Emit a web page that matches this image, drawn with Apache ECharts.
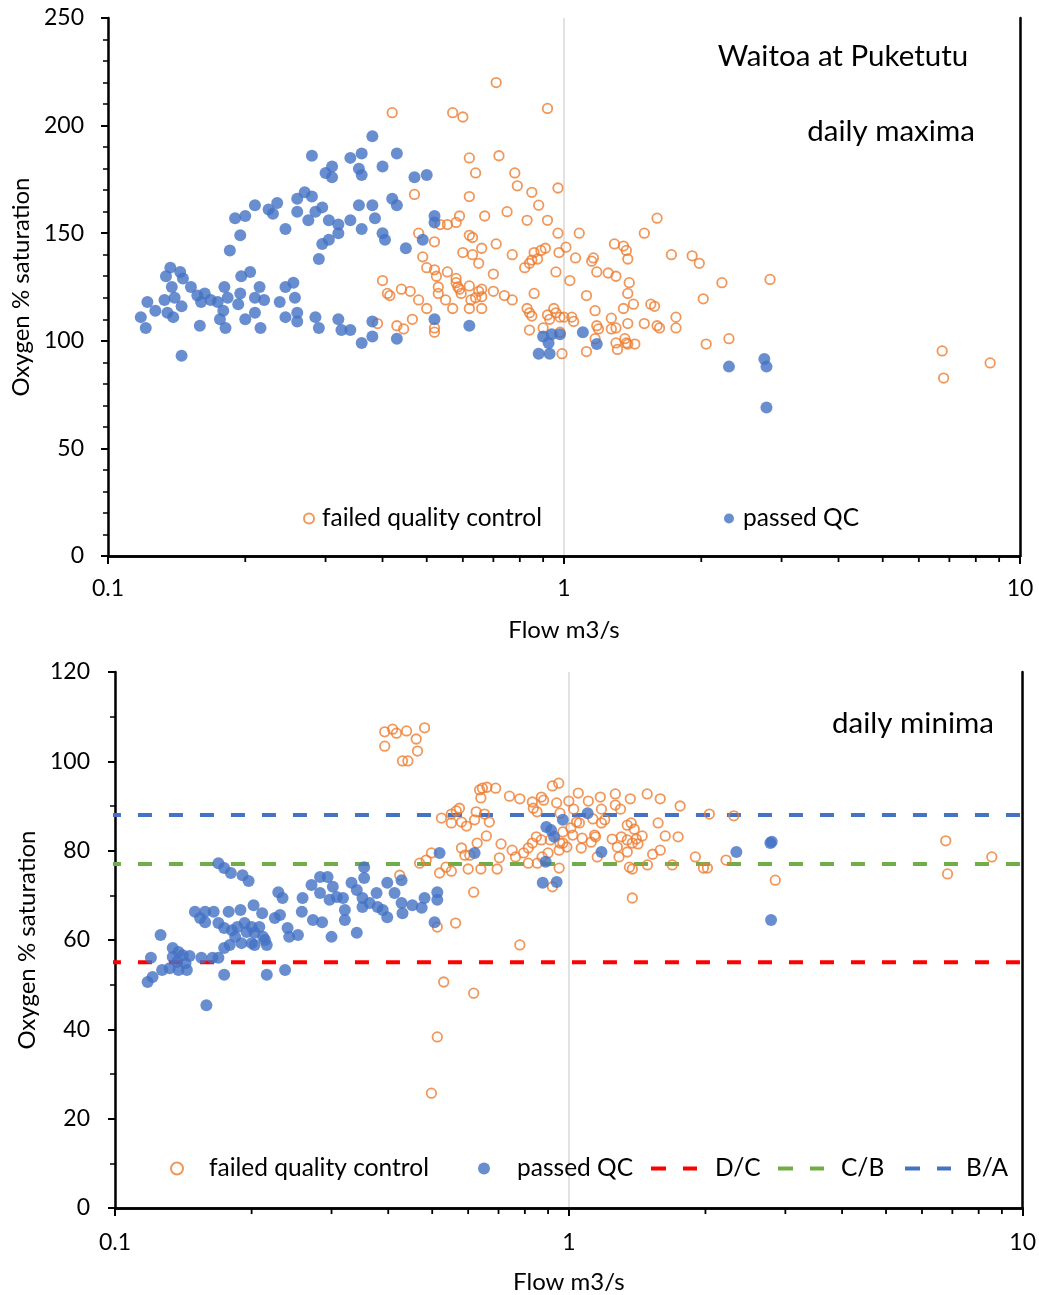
<!DOCTYPE html>
<html>
<head>
<meta charset="utf-8">
<title>Waitoa at Puketutu – oxygen saturation vs flow</title>
<script src="https://cdn.jsdelivr.net/npm/echarts@6/dist/echarts.min.js"></script>
<style>
  html, body { margin: 0; padding: 0; background: #fff; }
  #chart { width: 1039px; height: 1295px; }
</style>
</head>
<body>
<div id="chart"></div>
<script>
// ---- Daily maxima: [flow m3/s, oxygen % saturation] ----
const maxFailed = [
  [0.71,220],[0.92,208],[0.42,206],[0.57,206],[0.60,204],[0.62,185],[0.72,186],[0.64,178],[0.78,178],[0.79,172],
  [0.85,169],[0.97,171],[0.47,168],[0.62,167],[0.88,163],[0.59,158],[0.58,155],[0.555,154],[0.535,154],[0.67,158],
  [0.75,160],[0.83,156],[0.92,156],[0.97,150],[0.48,150],[0.52,146],[0.62,149],[0.63,148],[0.66,143],[0.71,145],
  [0.77,140],[0.86,141],[0.89,142],[0.91,143],[0.875,138],[0.85,137.5],[0.84,136],[0.82,134],[0.975,141],[1.01,143.5],
  [0.60,141],[0.63,140],[0.65,136],[0.49,139],[0.50,134],[0.52,133],[0.525,130],[0.555,132],[0.58,129],[0.70,131],
  [0.96,132],[0.40,128],[0.41,122],[0.415,121],[0.44,124],[0.46,123],[0.48,119],[0.50,115],[0.53,125],[0.53,122],
  [0.55,119],[0.585,125],[0.59,124],[0.595,122],[0.58,127],[0.62,125.5],[0.625,119],[0.64,120],[0.66,120.5],[0.65,123],
  [0.66,124],[0.70,123],[0.74,121],[0.77,119],[0.86,122],[0.57,115],[0.62,115],[0.66,115],[0.39,108],[0.43,107],
  [0.445,105.5],[0.465,110],[0.52,106],[0.52,104],[0.83,115],[0.84,113],[0.85,111.5],[0.95,115],[0.96,113],[0.92,112],
  [0.93,110],[0.90,106],[0.84,105],[0.98,111],[1.0,111],[0.99,94],
  [1.6,157],[1.08,150],[1.5,150],[1.29,145],[1.35,144],[1.37,142],[1.38,138],[1.06,138.5],[1.16,138.5],[1.15,137],
  [1.18,132],[1.25,131.5],[1.3,130],[1.39,127],[1.38,122],[1.72,140],[1.91,139.5],[1.98,136],[2.22,127],[2.83,128.5],
  [2.02,119.5],[1.03,128],[1.12,121],[1.17,114],[1.35,115],[1.42,117],[1.55,117],[1.58,116],[1.76,111],[1.76,106],
  [1.5,108],[1.6,107],[1.62,106],[1.38,108],[1.27,110.5],[1.3,106],[1.27,105.5],[1.18,107],[1.19,105.5],[1.04,111],
  [1.05,109],[0.98,104],[1.36,101],[1.37,99],[1.38,98.5],[1.43,98.5],[1.3,99],[1.31,96],[1.17,101],[1.12,95],
  [2.05,98.5],[2.3,101],[6.75,95.3],[6.8,82.7],[8.6,89.7]
];
const maxPassed = [
  [0.28,186],[0.30,178],[0.27,169],[0.28,167],[0.26,166],[0.26,160],[0.275,156],[0.285,160],[0.295,162],[0.235,164],
  [0.225,161],[0.23,159],[0.21,163],[0.20,158],[0.19,157],[0.245,152],[0.195,149],[0.185,142],[0.29,138],[0.295,145],
  [0.137,134],[0.144,132],[0.134,130],[0.146,129],[0.138,125],[0.122,118],[0.127,114],[0.118,111],[0.121,106],
  [0.133,119],[0.14,120],[0.135,113],[0.139,111],[0.145,116],[0.152,125],[0.157,121],[0.163,122],[0.168,119],[0.16,118],
  [0.174,118],[0.18,125],[0.183,120],[0.179,114],[0.176,110],[0.181,106],[0.159,107],[0.193,117],[0.195,122],[0.196,130],
  [0.205,132],[0.215,125],[0.21,120],[0.22,119],[0.21,113],[0.20,110],[0.216,106],[0.238,118],[0.245,125],[0.255,127],
  [0.257,120],[0.245,111],[0.26,113],[0.26,109],[0.285,111],[0.29,106],[0.145,93],
  [0.38,195],[0.36,187],[0.34,185],[0.43,187],[0.31,181],[0.31,176],[0.355,180],[0.36,177],[0.40,181],[0.47,176],
  [0.50,177],[0.305,156],[0.32,154],[0.32,150],[0.34,156],[0.36,152],[0.355,163],[0.38,163],[0.385,157],[0.42,166],
  [0.43,163],[0.40,150],[0.405,147],[0.305,147],[0.45,143],[0.49,147],[0.52,158],[0.52,155],
  [0.32,110],[0.325,105],[0.34,105],[0.38,102],[0.36,99],[0.38,109],[0.43,101],[0.52,110],[0.62,107],
  [0.90,102],[0.94,103],[0.98,103],[0.88,94],[0.93,94],[0.925,99],[1.1,104],[1.18,98.5],
  [2.3,88],[2.75,91.5],[2.78,88],[2.78,69]
];

// ---- Daily minima: [flow m3/s, oxygen % saturation] ----
const minFailed = [
  [0.393,106.6],[0.409,107.2],[0.417,106.3],[0.439,106.8],[0.481,107.5],[0.461,105.0],[0.393,103.4],[0.464,102.3],[0.43,100.1],[0.442,100.1],
  [0.524,87.3],[0.551,88.2],[0.565,88.9],[0.574,89.5],[0.551,86.2],[0.58,86.4],[0.595,85.5],[0.62,86.9],[0.625,88.7],[0.652,88.2],
  [0.668,86.4],[0.636,93.6],[0.645,94.0],[0.66,94.2],[0.69,94.0],[0.64,91.8],[0.74,92.2],[0.78,91.6],[0.831,90.9],[0.870,92.0],
  [0.88,91.3],[0.92,94.5],[0.95,95.1],[0.94,90.7],[0.835,89.5],[0.851,88.7],[0.658,83.3],[0.628,81.7],[0.58,80.6],[0.59,79.0],
  [0.605,79.0],[0.709,81.5],[0.75,80.1],[0.763,78.6],[0.795,79.5],[0.814,80.6],[0.703,78.4],[0.695,75.9],[0.64,75.9],[0.6,75.9],
  [0.848,83.1],[0.87,82.4],[0.831,81.7],[0.91,82.4],[0.97,81.7],[0.952,80.1],[0.90,79.5],[0.873,78.6],[0.852,77.2],[0.814,77.2],
  [0.952,76.1],[0.92,71.9],[0.469,77.2],[0.485,77.9],[0.498,79.5],[0.536,76.3],[0.519,75.0],[0.551,75.4],[0.424,74.5],
  [0.513,62.9],[0.563,63.8],[0.617,70.7],[0.78,58.9],[0.53,50.6],[0.617,48.1],[0.513,38.3],[0.498,25.7],
  [1.049,92.9],[1.173,92.0],[1.266,92.7],[1.366,91.6],[1.488,92.7],[1.59,91.6],[1.759,90.0],[1.104,91.1],[1.0,91.1],
  [1.025,89.3],[1.18,89.3],[1.266,90.2],[1.3,89.3],[2.04,88.2],[2.31,87.8],[1.04,86.4],[1.13,87.1],[1.18,86.2],[1.2,86.9],
  [1.055,86.2],[1.01,85.1],[0.956,88.4],[1.345,85.7],[1.372,86.2],[1.394,84.8],[1.573,86.2],[1.246,82.6],[1.305,83.1],[1.345,82.4],
  [1.408,82.6],[1.451,83.3],[1.279,80.8],[1.38,81.7],[1.42,81.5],[1.631,83.3],[1.741,83.1],[0.97,84.2],[1.02,83.5],[1.07,82.8],
  [1.14,83.5],[0.956,81.7],[0.99,80.8],[1.065,80.6],[1.12,81.9],[1.145,83.1],[1.155,78.6],[1.29,78.6],[1.345,79.7],[1.53,79.2],
  [1.59,80.1],[1.36,76.3],[1.38,75.9],[1.49,76.8],[1.69,76.8],[1.9,78.6],[1.98,76.1],[2.02,76.1],[2.22,77.9],[1.38,69.4],
  [2.85,73.4],[6.77,82.2],[6.83,74.8],[8.55,78.6]
];
const minPassed = [
  [0.169,77.2],[0.174,76.1],[0.18,75.0],[0.191,74.5],[0.197,73.2],[0.229,70.7],[0.234,69.4],[0.259,69.4],[0.258,66.3],[0.271,72.3],
  [0.283,74.1],[0.294,74.1],[0.283,70.5],[0.150,66.3],[0.158,66.3],[0.165,66.3],[0.178,66.3],[0.189,66.7],[0.202,67.8],[0.211,66.0],
  [0.154,64.9],[0.158,64.0],[0.225,64.9],[0.231,65.6],[0.169,63.8],[0.174,62.7],[0.181,62.2],[0.186,62.9],[0.193,63.8],[0.200,62.9],
  [0.208,62.9],[0.184,60.7],[0.195,61.8],[0.203,61.6],[0.212,60.7],[0.174,58.2],[0.179,58.9],[0.190,59.3],[0.200,59.3],[0.203,58.9],
  [0.214,60.0],[0.216,58.9],[0.240,62.7],[0.242,60.7],[0.253,61.1],[0.273,64.5],[0.286,64.0],[0.300,60.7],[0.126,61.1],[0.120,56.0],
  [0.134,58.2],[0.138,57.3],[0.134,56.2],[0.141,56.6],[0.146,56.4],[0.137,55.1],[0.143,54.8],[0.132,53.7],[0.138,53.3],[0.144,53.3],
  [0.127,53.3],[0.121,51.7],[0.118,50.6],[0.155,56.0],[0.164,56.0],[0.169,56.0],[0.174,52.2],[0.216,52.2],[0.237,53.3],[0.159,45.4],
  [0.302,71.9],[0.297,69.0],[0.308,69.6],[0.318,69.4],[0.332,72.8],[0.341,71.2],[0.354,76.3],[0.354,73.9],[0.351,69.4],[0.351,67.4],
  [0.364,68.3],[0.377,70.5],[0.379,67.4],[0.389,66.7],[0.398,72.8],[0.398,65.1],[0.413,70.5],[0.428,73.4],[0.428,68.3],[0.43,66.0],
  [0.452,67.8],[0.474,67.2],[0.481,69.4],[0.513,70.7],[0.513,69.0],[0.506,64.0],[0.321,66.7],[0.321,64.5],[0.341,61.6],
  [0.519,79.5],[0.62,79.5],[0.892,85.3],[0.914,84.6],[0.928,83.1],[0.97,86.9],[0.889,77.5],[0.876,72.8],[0.94,73.0],
  [1.1,88.4],[1.18,79.7],[2.34,79.7],[2.78,81.7],[2.8,82.0],[2.79,64.5]
];

// Class boundaries for daily minimum oxygen saturation
const thresholdFlow = [0.096, 10];
const bandDC = 55;
const bandCB = 77;
const bandBA = 88;

// Minor ticks on the log flow axis
const flowMinorTicks = [0.2,0.3,0.4,0.5,0.6,0.7,0.8,0.9,2,3,4,5,6,7,8,9];

const ORANGE = '#ED7D31';
const BLUE = '#4472C4';
const RED = '#FF0000';
const GREEN = '#70AD47';
const FONT = 'Lato, "Open Sans", sans-serif';

const chart = echarts.init(document.getElementById('chart'), null, { renderer: 'canvas' });

function xAxisCfg(gridIndex, labelMargin, nameGap) {
  return {
    type: 'log', logBase: 10, gridIndex, min: 0.1, max: 10,
    name: 'Flow m3/s', nameLocation: 'middle', nameGap,
    nameTextStyle: { fontFamily: FONT, fontSize: 24, color: '#000' },
    axisLine: { lineStyle: { color: '#000', width: 2.5 } },
    axisTick: { length: 8, lineStyle: { color: '#000', width: 2 } },
    axisLabel: { fontFamily: FONT, fontSize: 23, color: '#000', margin: labelMargin,
      formatter: v => String(+v.toPrecision(3)) },
    splitLine: { show: true, lineStyle: { color: '#d9d9d9', width: 1.5 } },
    minorTick: { show: false }
  };
}
// Plain axis lines closing the plot box (top and right edges)
function frameXAxis(gridIndex) {
  return {
    type: 'log', logBase: 10, gridIndex, min: 0.1, max: 10, position: 'top', z: 4,
    axisLine: { show: true, lineStyle: { color: '#000', width: 2.5 } },
    axisTick: { show: false }, axisLabel: { show: false }, splitLine: { show: false }
  };
}
function yAxisCfg(gridIndex, max, interval, minorSplit, labelMargin, nameGap) {
  return {
    type: 'value', gridIndex, min: 0, max, interval,
    name: 'Oxygen % saturation', nameLocation: 'middle', nameGap,
    nameTextStyle: { fontFamily: FONT, fontSize: 24, color: '#000' },
    axisLine: { show: true, lineStyle: { color: '#000', width: 2.5 } },
    axisTick: { show: true, length: 7, lineStyle: { color: '#000', width: 2 } },
    minorTick: { show: true, splitNumber: minorSplit, length: 5, lineStyle: { color: '#000', width: 1.5 } },
    axisLabel: { fontFamily: FONT, fontSize: 23, color: '#000', margin: labelMargin },
    splitLine: { show: false }
  };
}
function frameYAxis(gridIndex, max) {
  return {
    type: 'value', gridIndex, min: 0, max, position: 'right', z: 4,
    axisLine: { show: true, lineStyle: { color: '#000', width: 2.5 } },
    axisTick: { show: false }, axisLabel: { show: false }, splitLine: { show: false }
  };
}
function minorTickSeries(axisIndex) {
  return {
    type: 'custom', xAxisIndex: axisIndex, yAxisIndex: axisIndex, silent: true, z: 6, clip: false,
    data: flowMinorTicks.map(v => [v, 0]),
    renderItem: (params, api) => {
      const p = api.coord([api.value(0), 0]);
      return { type: 'line', shape: { x1: p[0], y1: p[1], x2: p[0], y2: p[1] + 6 },
               style: { stroke: '#000', lineWidth: 1.8 } };
    }
  };
}
const failedStyle = { color: 'rgba(0,0,0,0)', borderColor: ORANGE, borderWidth: 1.8 };
const passedStyle = { color: BLUE };
const LEG_FS = 24.5;
function legendText(padLeft) {
  return { fontFamily: FONT, fontSize: LEG_FS, color: '#000', padding: [0, 0, 0, padLeft] };
}
const dashIcon = 'path://M0,0H15V4H0Z M32,0H46V4H32Z';

const option = {
  backgroundColor: '#fff',
  animation: false,
  grid: [
    { left: 108, top: 18, right: 19, height: 538 },
    { left: 115, top: 672, right: 15, height: 536 }
  ],
  xAxis: [ xAxisCfg(0, 21, 62), xAxisCfg(1, 23, 62), frameXAxis(0), frameXAxis(1) ],
  yAxis: [ yAxisCfg(0, 250, 50, 5, 24, 74), yAxisCfg(1, 120, 20, 2, 25, 74), frameYAxis(0, 250), frameYAxis(1, 120) ],
  legend: [
    { data: ['failed quality control'], left: 298, top: 501, itemWidth: 10, itemHeight: 10, selectedMode: false, textStyle: legendText(3) },
    { data: ['passed QC'], left: 719, top: 501, itemWidth: 10, itemHeight: 10, selectedMode: false, textStyle: legendText(4) },
    { data: ['failed quality control'], left: 165, top: 1151, itemWidth: 12, itemHeight: 12, selectedMode: false, textStyle: legendText(21) },
    { data: ['passed QC'], left: 473, top: 1151, itemWidth: 12, itemHeight: 12, selectedMode: false, textStyle: legendText(22) },
    { data: [{ name: 'D/C', icon: dashIcon }], left: 646, top: 1151, itemWidth: 46, itemHeight: 4, selectedMode: false, textStyle: legendText(13) },
    { data: [{ name: 'C/B', icon: dashIcon }], left: 773, top: 1151, itemWidth: 46, itemHeight: 4, selectedMode: false, textStyle: legendText(12) },
    { data: [{ name: 'B/A', icon: dashIcon }], left: 900, top: 1151, itemWidth: 46, itemHeight: 4, selectedMode: false, textStyle: legendText(10) }
  ],
  graphic: [
    { type: 'text', x: 843, y: 56, style: { text: 'Waitoa at Puketutu', fontFamily: FONT, fontSize: 29.5, fill: '#000', textAlign: 'center', textVerticalAlign: 'middle' } },
    { type: 'text', x: 891, y: 131, style: { text: 'daily maxima', fontFamily: FONT, fontSize: 29.5, fill: '#000', textAlign: 'center', textVerticalAlign: 'middle' } },
    { type: 'text', x: 913, y: 723, style: { text: 'daily minima', fontFamily: FONT, fontSize: 29.5, fill: '#000', textAlign: 'center', textVerticalAlign: 'middle' } }
  ],
  series: [
    // daily maxima
    { name: 'failed quality control', type: 'scatter', xAxisIndex: 0, yAxisIndex: 0, data: maxFailed,
      symbol: 'circle', symbolSize: 9.5, itemStyle: failedStyle, z: 2 },
    { name: 'passed QC', type: 'scatter', xAxisIndex: 0, yAxisIndex: 0, data: maxPassed,
      symbol: 'circle', symbolSize: 12, itemStyle: passedStyle, z: 3 },
    minorTickSeries(0),
    // daily minima: class boundaries
    { name: 'D/C', type: 'line', xAxisIndex: 1, yAxisIndex: 1, symbol: 'none', clip: false, z: 1,
      data: thresholdFlow.map(f => [f, bandDC]), lineStyle: { color: RED, width: 4, type: [14, 17] }, itemStyle: { color: RED } },
    { name: 'C/B', type: 'line', xAxisIndex: 1, yAxisIndex: 1, symbol: 'none', clip: false, z: 1,
      data: thresholdFlow.map(f => [f, bandCB]), lineStyle: { color: GREEN, width: 4, type: [14, 17] }, itemStyle: { color: GREEN } },
    { name: 'B/A', type: 'line', xAxisIndex: 1, yAxisIndex: 1, symbol: 'none', clip: false, z: 1,
      data: thresholdFlow.map(f => [f, bandBA]), lineStyle: { color: BLUE, width: 4, type: [14, 17] }, itemStyle: { color: BLUE } },
    { name: 'failed quality control', type: 'scatter', xAxisIndex: 1, yAxisIndex: 1, data: minFailed,
      symbol: 'circle', symbolSize: 9.5, itemStyle: failedStyle, z: 2 },
    { name: 'passed QC', type: 'scatter', xAxisIndex: 1, yAxisIndex: 1, data: minPassed,
      symbol: 'circle', symbolSize: 12, itemStyle: passedStyle, z: 3 },
    minorTickSeries(1)
  ]
};
chart.setOption(option);
</script>
</body>
</html>
